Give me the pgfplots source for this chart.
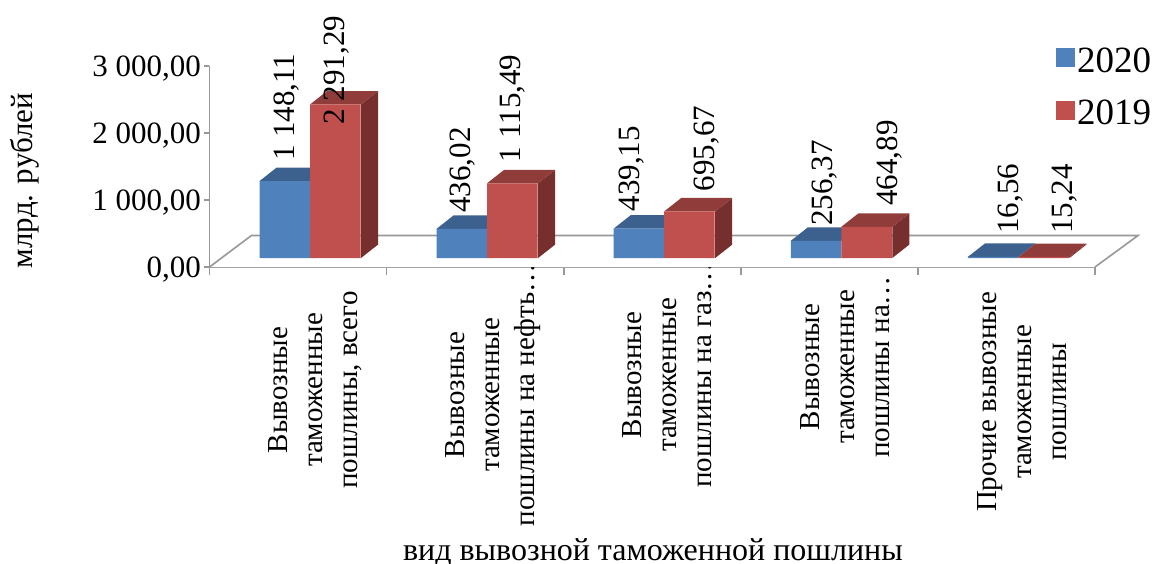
\documentclass[border=0pt]{standalone}
\usepackage{pgfplots}
\pgfplotsset{compat=1.18}
\usepackage{fontspec}
\setmainfont{Liberation Serif}
\definecolor{bluefront}{HTML}{4F81BD}
\definecolor{bluetop}{HTML}{3C618F}
\definecolor{redfront}{HTML}{C0504D}
\definecolor{redtop}{HTML}{8F3C3A}
\definecolor{redside}{HTML}{772F2D}
\definecolor{axisgray}{HTML}{989898}
\newcommand\xl[2]{\hbox to 0pt{\hss\kern#1\begin{tabular}{@{}c@{}}#2\end{tabular}\hss}}
\begin{document}
\begin{tikzpicture}[x=1pt,y=1pt]
\useasboundingbox (0,0) rectangle (1162,563);
\begin{axis}[
  at={(209.5pt,296pt)}, anchor=south west,
  scale only axis, width=885.5pt, height=201pt,
  xmin=0, xmax=5, ymin=0, ymax=3000,
  clip=false,
  axis x line*=bottom, axis y line*=left,
  axis line style={axisgray, line width=1.6pt, -},
  tick align=outside,
  major tick length=5pt, minor tick length=8pt,
  every tick/.append style={axisgray, line width=1.6pt},
  major x tick style={draw=none},
  ytick={0,1000,2000,3000},
  yticklabels={{0,00},{1 000,00},{2 000,00},{3 000,00}},
  yticklabel style={font=\fontsize{31}{31}\selectfont, anchor=east, xshift=0pt, yshift=-3pt},
  xtick={0.6,1.6,2.6,3.6,4.6},
  minor xtick={0,1,2,3,4,5},
  xticklabels={
    {\xl{0pt}{Вывозные\\таможенные\\пошлины, всего}},
    {\xl{-10pt}{Вывозные\\таможенные\\пошлины на нефть…}},
    {\xl{30pt}{Вывозные\\таможенные\\пошлины на газ…}},
    {\xl{46pt}{Вывозные\\таможенные\\пошлины на…}},
    {\xl{-24pt}{Прочие вывозные\\таможенные\\пошлины}}},
  xticklabel style={font=\fontsize{29}{35}\selectfont, anchor=center, yshift=-118pt, rotate=90, inner sep=0pt},
  ylabel={млрд. рублей},
  xlabel={вид вывозной таможенной пошлины},
  every axis y label/.style={at={(axis description cs:-0.2084,0.43)}, rotate=90, anchor=center, font=\fontsize{31}{31}\selectfont},
  every axis x label/.style={at={(axis description cs:0.5008,-1.423)}, anchor=center, font=\fontsize{32}{32}\selectfont},
  legend style={at={(axis description cs:0.956,1.1)}, anchor=north west, draw=none, fill=none, inner sep=0pt, outer sep=0pt,
    font=\fontsize{37}{37}\selectfont, row sep=22pt},
  legend cell align=left,
  legend image code/.code={\fill[#1,/tikz/.cd,bar shift=0pt,yshift=0pt] (0pt,-15.5pt) rectangle (19pt,3.5pt);},
  /tikz/every even column/.append style={column sep=8pt},
]
% floor
\addplot[draw=axisgray, line width=1.6pt, fill=white, forget plot] coordinates {(0,0) (0.237,470) (5.243,470) (5,0)};

% side and top faces (shifted to the base of the bars)
\addplot[fill=redside, draw=none, forget plot, yshift=9pt] coordinates {(0.8555,0) (0.8555,2291.29) (0.9515,2491.29) (0.9515,200)};
\addplot[fill=redside, draw=none, forget plot, yshift=9pt] coordinates {(1.8555,0) (1.8555,1115.49) (1.9515,1315.49) (1.9515,200)};
\addplot[fill=redside, draw=none, forget plot, yshift=9pt] coordinates {(2.8555,0) (2.8555,695.67) (2.9515,895.67) (2.9515,200)};
\addplot[fill=redside, draw=none, forget plot, yshift=9pt] coordinates {(3.8555,0) (3.8555,464.89) (3.9515,664.89) (3.9515,200)};
\addplot[fill=redside, draw=none, forget plot, yshift=9pt] coordinates {(4.8555,0) (4.8555,15.24) (4.9515,215.24) (4.9515,200)};

\addplot[fill=bluetop, draw=none, forget plot, yshift=9pt] coordinates {(0.2823,1148.11) (0.5675,1148.11) (0.6635,1348.11) (0.3783,1348.11)};
\addplot[fill=bluetop, draw=none, forget plot, yshift=9pt] coordinates {(1.2823,436.02) (1.5675,436.02) (1.6635,636.02) (1.3783,636.02)};
\addplot[fill=bluetop, draw=none, forget plot, yshift=9pt] coordinates {(2.2823,439.15) (2.5675,439.15) (2.6635,639.15) (2.3783,639.15)};
\addplot[fill=bluetop, draw=none, forget plot, yshift=9pt] coordinates {(3.2823,256.37) (3.5675,256.37) (3.6635,456.37) (3.3783,456.37)};
\addplot[fill=bluetop, draw=none, forget plot, yshift=9pt] coordinates {(4.2823,16.56) (4.5675,16.56) (4.6635,216.56) (4.3783,216.56)};

\addplot[fill=redtop, draw=none, forget plot, yshift=9pt] coordinates {(0.5675,2291.29) (0.8555,2291.29) (0.9515,2491.29) (0.6635,2491.29)};
\addplot[fill=redtop, draw=none, forget plot, yshift=9pt] coordinates {(1.5675,1115.49) (1.8555,1115.49) (1.9515,1315.49) (1.6635,1315.49)};
\addplot[fill=redtop, draw=none, forget plot, yshift=9pt] coordinates {(2.5675,695.67) (2.8555,695.67) (2.9515,895.67) (2.6635,895.67)};
\addplot[fill=redtop, draw=none, forget plot, yshift=9pt] coordinates {(3.5675,464.89) (3.8555,464.89) (3.9515,664.89) (3.6635,664.89)};
\addplot[fill=redtop, draw=none, forget plot, yshift=9pt] coordinates {(4.5675,15.24) (4.8555,15.24) (4.9515,215.24) (4.6635,215.24)};

% front faces
\addplot[ybar, bar width=50.5pt, bar shift=-25.25pt, fill=bluefront, draw=none, yshift=9pt,
  nodes near coords, point meta=explicit symbolic,
  visualization depends on={\thisrow{dx} \as \ldx},
  visualization depends on={\thisrow{dy} \as \ldy},
  every node near coord/.style={font=\fontsize{31}{31}\selectfont, black, inner sep=0pt, anchor=west, xshift=-25.25pt, xshift=\ldx pt, yshift=\ldy pt, rotate=90}]
 table[x=x, y=v, meta=lab, col sep=semicolon, row sep=\\] {
 x;v;lab;dx;dy\\
 0.5675;1148.11;1 148,11;2;20\\
 1.5675;436.02;436,02;1;16\\
 2.5675;439.15;439,15;-7;17\\
 3.5675;256.37;256,37;9;15\\
 4.5675;16.56;16,56;17;23\\
 };
\addplot[ybar, bar width=50.5pt, bar shift=25.25pt, fill=redfront, draw=none, yshift=9pt,
  nodes near coords, point meta=explicit symbolic,
  visualization depends on={\thisrow{dx} \as \ldx},
  visualization depends on={\thisrow{dy} \as \ldy},
  every node near coord/.style={font=\fontsize{31}{31}\selectfont, black, inner sep=0pt, anchor=west, xshift=25.25pt, xshift=\ldx pt, yshift=\ldy pt, rotate=90}]
 table[x=x, y=v, meta=lab, col sep=semicolon, row sep=\\] {
 x;v;lab;dx;dy\\
 0.5675;2291.29;2 291,29;1.5;-20\\
 1.5675;1115.49;1 115,49;0;21\\
 2.5675;695.67;695,67;17;20\\
 3.5675;464.89;464,89;23;21\\
 4.5675;15.24;15,24;21;23\\
 };
\legend{2020,2019}
\end{axis}
\end{tikzpicture}
\end{document}
